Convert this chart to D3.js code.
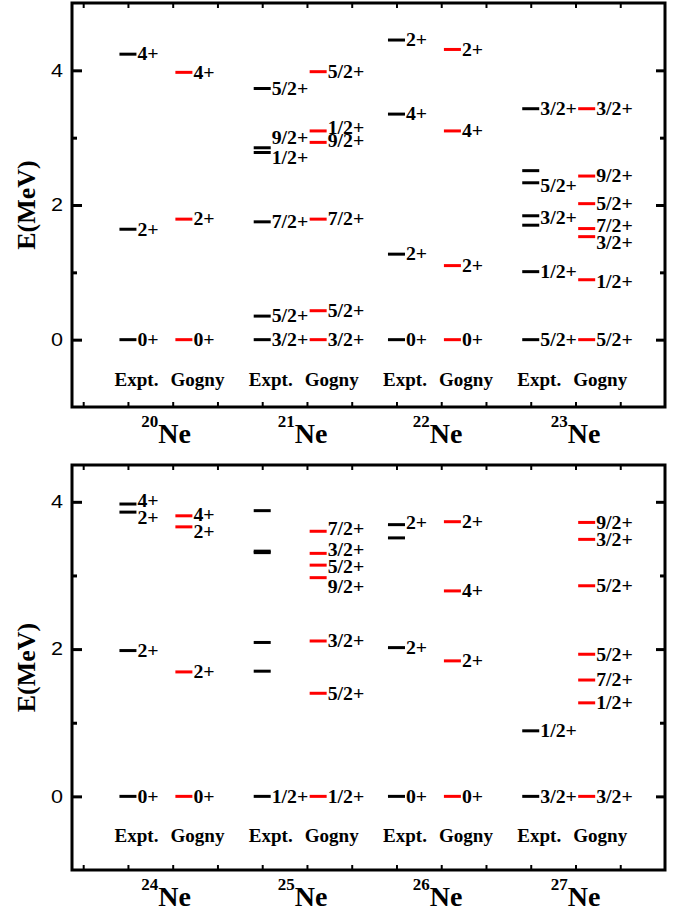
<!DOCTYPE html>
<html>
<head>
<meta charset="utf-8">
<script src="https://cdn.jsdelivr.net/npm/d3@7"></script>
<style>
  html, body { margin: 0; padding: 0; background: #fff; }
  svg { display: block; }
  text { font-family: "Liberation Serif", "Times New Roman", serif; font-weight: bold; fill: #000; }
  .tick text { font-family: "Liberation Sans", Arial, sans-serif; font-weight: normal; }
</style>
</head>
<body>
<svg id="chart" width="680" height="911"></svg>
<script>
// ---------------- data ----------------
const topIsotopes = ["20", "21", "22", "23"];
const bottomIsotopes = ["24", "25", "26", "27"];
const models = ["Expt.", "Gogny"];
const exptX = [2, 5, 8, 11];
const gognyX = [3.25, 6.25, 9.25, 12.25];
const isoLabelX = [2.85, 5.9, 8.92, 12.0];
const topYTicks = [0, 2, 4];
const topYMinor = [1, 3];
const bottomYTicks = [0, 2, 4];
const bottomYMinor = [1, 3];
const xTicks = [1, 2, 3, 4, 5, 6, 7, 8, 9, 10, 11, 12, 13];

// levels: [energy (MeV), spin label, label energy]
const ne20Expt  = [[0, "0+"], [1.64, "2+"], [4.24, "4+"]];
const ne20Gogny = [[0, "0+"], [1.79, "2+"], [3.97, "4+"]];
const ne21Expt  = [[0, "3/2+"], [0.35, "5/2+"], [1.75, "7/2+"], [2.78, "1/2+", 2.70], [2.85, "9/2+", 3.0], [3.73, "5/2+"]];
const ne21Gogny = [[0, "3/2+"], [0.43, "5/2+"], [1.79, "7/2+"], [2.93, "9/2+", 2.95], [3.10, "1/2+", 3.15], [3.98, "5/2+"]];
const ne22Expt  = [[0, "0+"], [1.27, "2+"], [3.35, "4+"], [4.45, "2+"]];
const ne22Gogny = [[0, "0+"], [1.10, "2+"], [3.10, "4+"], [4.31, "2+"]];
const ne23Expt  = [[0, "5/2+"], [1.01, "1/2+"], [1.70, ""], [1.84, "3/2+", 1.81], [2.33, "5/2+", 2.28], [2.51, ""], [3.43, "3/2+"]];
const ne23Gogny = [[0, "5/2+"], [0.89, "1/2+", 0.86], [1.53, "3/2+", 1.44], [1.65, "7/2+", 1.70], [2.02, "5/2+"], [2.43, "9/2+"], [3.43, "3/2+"]];

const ne24Expt  = [[0, "0+"], [1.98, "2+"], [3.86, "2+", 3.79], [3.97, "4+", 4.02]];
const ne24Gogny = [[0, "0+"], [1.69, "2+"], [3.66, "2+", 3.59], [3.81, "4+", 3.82]];
const ne25Expt  = [[0, "1/2+"], [1.70, ""], [2.09, ""], [3.31, ""], [3.33, ""], [3.88, ""]];
const ne25Gogny = [[0, "1/2+"], [1.40, "5/2+"], [2.11, "3/2+"], [2.97, "9/2+", 2.85], [3.14, "5/2+", 3.12], [3.30, "3/2+", 3.35], [3.60, "7/2+", 3.63]];
const ne26Expt  = [[0, "0+"], [2.02, "2+"], [3.51, ""], [3.69, "2+", 3.72]];
const ne26Gogny = [[0, "0+"], [1.84, "2+"], [2.79, "4+"], [3.73, "2+"]];
const ne27Expt  = [[0, "3/2+"], [0.89, "1/2+"]];
const ne27Gogny = [[0, "3/2+"], [1.27, "1/2+"], [1.58, "7/2+"], [1.93, "5/2+"], [2.86, "5/2+"], [3.49, "3/2+"], [3.72, "9/2+"]];

const topExpt = [ne20Expt, ne21Expt, ne22Expt, ne23Expt];
const topGogny = [ne20Gogny, ne21Gogny, ne22Gogny, ne23Gogny];
const bottomExpt = [ne24Expt, ne25Expt, ne26Expt, ne27Expt];
const bottomGogny = [ne24Gogny, ne25Gogny, ne26Gogny, ne27Gogny];

// ---------------- drawing ----------------
const svg = d3.select("#chart");
const W = 680;
const x = d3.scaleLinear().domain([0.75, 14]).range([72, 665]);
const halfW = 0.19;

function drawPanel(cfg) {
  const y = d3.scaleLinear().domain(cfg.yDomain).range([cfg.bottom, cfg.top]);
  const g = svg.append("g");

  // frame
  g.append("rect")
    .attr("x", x.range()[0]).attr("y", cfg.top)
    .attr("width", x.range()[1] - x.range()[0]).attr("height", cfg.bottom - cfg.top)
    .attr("fill", "none").attr("stroke", "#000").attr("stroke-width", 3);

  // y axis left (major with labels)
  const left = g.append("g").attr("transform", `translate(${x.range()[0]},0)`)
    .call(d3.axisLeft(y).tickValues(cfg.yTicks).tickSize(-10).tickPadding(9).tickFormat(d3.format("d")));
  left.selectAll(".tick line").attr("stroke-width", 3);
  left.selectAll(".tick text").attr("font-size", 18)
    .attr("transform", "scale(1.2,1)").attr("x", -9 / 1.2);
  // minor left
  g.append("g").attr("transform", `translate(${x.range()[0]},0)`)
    .call(d3.axisLeft(y).tickValues(cfg.yMinor).tickSize(-5).tickFormat(""))
    .selectAll(".tick line").attr("stroke-width", 3);
  // right axis
  g.append("g").attr("transform", `translate(${x.range()[1]},0)`)
    .call(d3.axisRight(y).tickValues(cfg.yTicks).tickSize(-9).tickFormat(""))
    .selectAll(".tick line").attr("stroke-width", 3);
  g.append("g").attr("transform", `translate(${x.range()[1]},0)`)
    .call(d3.axisRight(y).tickValues(cfg.yMinor).tickSize(-5).tickFormat(""))
    .selectAll(".tick line").attr("stroke-width", 3);
  // x ticks top & bottom
  g.append("g").attr("transform", `translate(0,${cfg.bottom})`)
    .call(d3.axisBottom(x).tickValues(xTicks).tickSize(-5).tickFormat(""))
    .selectAll(".tick line").attr("stroke-width", 2);
  g.append("g").attr("transform", `translate(0,${cfg.top})`)
    .call(d3.axisTop(x).tickValues(xTicks).tickSize(-5).tickFormat(""))
    .selectAll(".tick line").attr("stroke-width", 2);
  g.selectAll(".domain").remove();

  // levels
  function levels(data, xc, color) {
    const lg = g.append("g");
    lg.selectAll("line").data(data).join("line")
      .attr("x1", x(xc - halfW)).attr("x2", x(xc + halfW))
      .attr("y1", d => y(d[0])).attr("y2", d => y(d[0]))
      .attr("stroke", color).attr("stroke-width", 3);
    lg.selectAll("text").data(data.filter(d => d[1])).join("text")
      .attr("transform", d => `translate(${x(xc + halfW) + 1},${y(d[2] !== undefined ? d[2] : d[0])}) scale(1.1,1)`)
      .attr("dy", "0.35em").attr("font-size", 18)
      .text(d => d[1]);
  }
  cfg.isotopes.forEach((iso, i) => {
    levels(cfg.expt[i], exptX[i], "#000");
    levels(cfg.gogny[i], gognyX[i], "#ff0000");
    // model labels
    [exptX[i], gognyX[i]].forEach((xc, k) => {
      g.append("text")
        .attr("transform", `translate(${x(xc - halfW) - 5},${y(0) + 46}) scale(1.06,1)`)
        .attr("font-size", 18)
        .text(models[k]);
    });
    // isotope label
    const t = g.append("text")
      .attr("x", x(isoLabelX[i])).attr("y", cfg.bottom + 36)
      .attr("text-anchor", "middle");
    t.append("tspan").attr("font-size", 17).attr("dy", -16).text(iso);
    t.append("tspan").attr("font-size", 28).attr("dy", 16).text("Ne");
  });

  // y title
  g.append("text")
    .attr("transform", `translate(35,${(cfg.top + cfg.bottom) / 2}) rotate(-90)`)
    .attr("text-anchor", "middle").attr("font-size", 26)
    .text("E(MeV)");
}

drawPanel({
  top: 3, bottom: 407, yDomain: [-1, 5],
  yTicks: topYTicks, yMinor: topYMinor,
  isotopes: topIsotopes, expt: topExpt, gogny: topGogny
});
drawPanel({
  top: 465, bottom: 870, yDomain: [-1, 4.5],
  yTicks: bottomYTicks, yMinor: bottomYMinor,
  isotopes: bottomIsotopes, expt: bottomExpt, gogny: bottomGogny
});
</script>
</body>
</html>
